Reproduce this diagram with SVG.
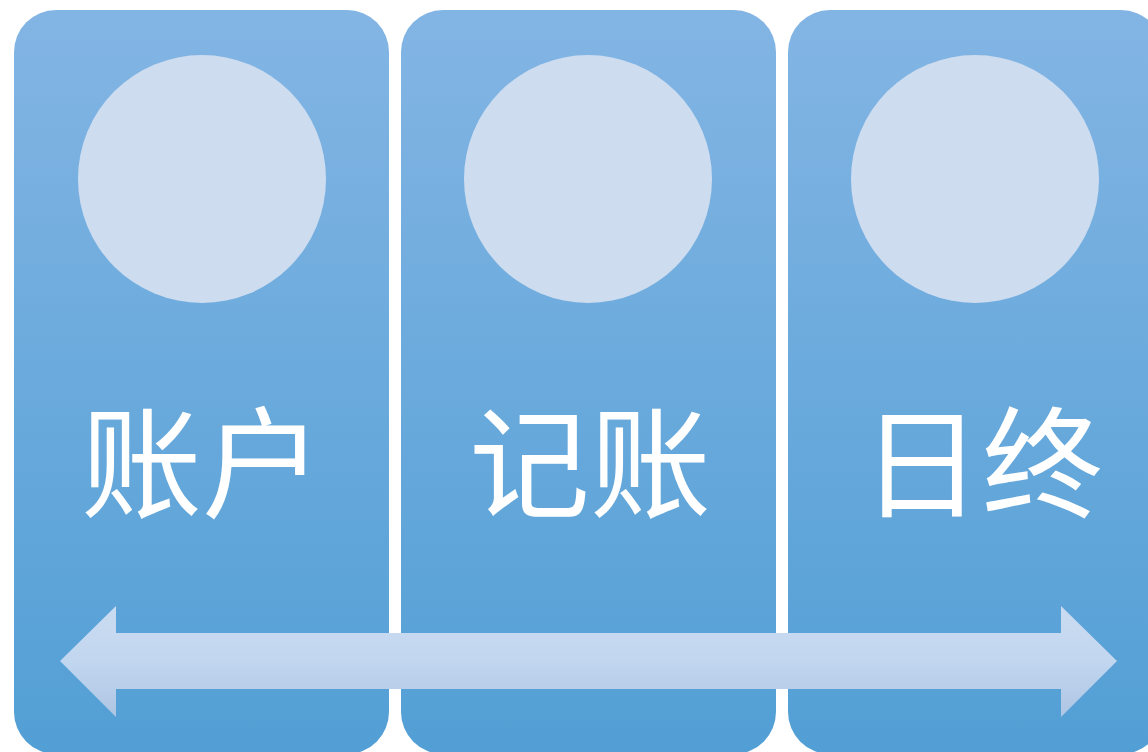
<svg xmlns="http://www.w3.org/2000/svg" width="1148" height="752" viewBox="0 0 1148 752">
<defs>
<linearGradient id="gBox" x1="0" y1="0" x2="0" y2="1">
<stop offset="0" stop-color="#83b5e4"/>
<stop offset="1" stop-color="#529fd5"/>
</linearGradient>
<linearGradient id="gArrow" x1="0" y1="0" x2="0" y2="1">
<stop offset="0" stop-color="#cbdcf1"/>
<stop offset="0.5" stop-color="#c1d6ef"/>
<stop offset="1" stop-color="#aec5e3"/>
</linearGradient>
<style>
.box{fill:url(#gBox);}
.circ{fill:#cddcef;}
.lbl{fill:#ffffff;font-family:"Noto Sans CJK SC","Noto Sans CJK JP",sans-serif;font-size:121px;text-anchor:middle;}
</style>
</defs>
<rect width="1148" height="752" fill="#ffffff"/>
<g id="node-account">
<rect class="box" x="14" y="10" width="375" height="744" rx="42" ry="42"/>
<circle class="circ" cx="202" cy="179" r="124"/>
<text class="lbl" x="202" y="508">账户</text>
</g>
<g id="node-posting">
<rect class="box" x="401" y="10" width="375" height="744" rx="42" ry="42"/>
<circle class="circ" cx="588" cy="179" r="124"/>
<text class="lbl" x="590" y="508">记账</text>
</g>
<g id="node-eod">
<rect class="box" x="788" y="10" width="375" height="744" rx="42" ry="42"/>
<circle class="circ" cx="975" cy="179" r="124"/>
<text class="lbl" x="982" y="508">日终</text>
</g>
<g id="connectors">
<polygon fill="url(#gArrow)" points="60,661 116,606 116,633 1061,633 1061,606 1117,661 1061,717 1061,689 116,689 116,717"/>
</g>
</svg>
